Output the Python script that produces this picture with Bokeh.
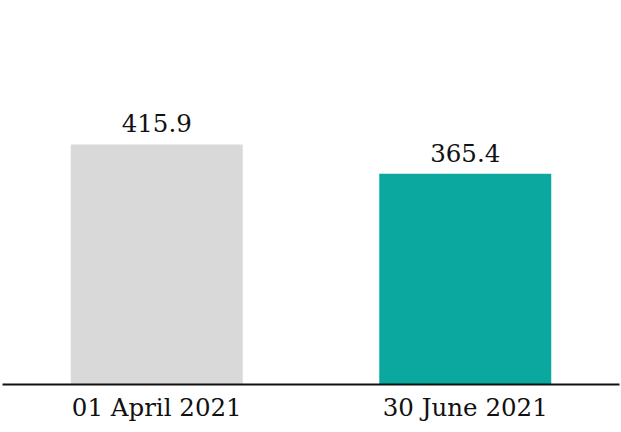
from bokeh.plotting import figure
from bokeh.models import ColumnDataSource, FactorRange, Range1d, LabelSet
from bokeh.core.properties import value
from bokeh.embed import file_html
from bokeh.resources import INLINE

categories = ["01 April 2021", "30 June 2021"]
values = [415.9, 365.4]
labels = ["415.9", "365.4"]
colors = ["#D9D9D9", "#0AA89E"]

FONT = "DejaVu Serif"

src = ColumnDataSource(dict(cat=categories, val=values, lab=labels, col=colors))

p = figure(width=621, height=432, output_backend="svg", toolbar_location=None,
           x_range=FactorRange(*categories, range_padding=0),
           y_range=Range1d(0, 665.4),
           min_border_left=2, min_border_right=2, min_border_top=0, min_border_bottom=48)

p.vbar(x="cat", top="val", width=0.5575, color="col", source=src, line_color=None)

p.add_layout(LabelSet(x="cat", y="val", text="lab", source=src, y_offset=12,
                      text_align="center", text_baseline="alphabetic",
                      text_font=value(FONT), text_font_size="24.5px", text_color="#111111"))

p.yaxis.visible = False
p.xgrid.visible = False
p.ygrid.visible = False
p.outline_line_color = None
p.xaxis.axis_line_color = "#111111"
p.xaxis.axis_line_width = 2
p.xaxis.major_tick_line_color = None
p.xaxis.minor_tick_line_color = None
p.xaxis.major_label_text_font = FONT
p.xaxis.major_label_text_font_size = "24.5px"
p.xaxis.major_label_text_color = "#111111"
p.xaxis.major_label_standoff = 2

open("out.html", "w").write(file_html(p, INLINE))
